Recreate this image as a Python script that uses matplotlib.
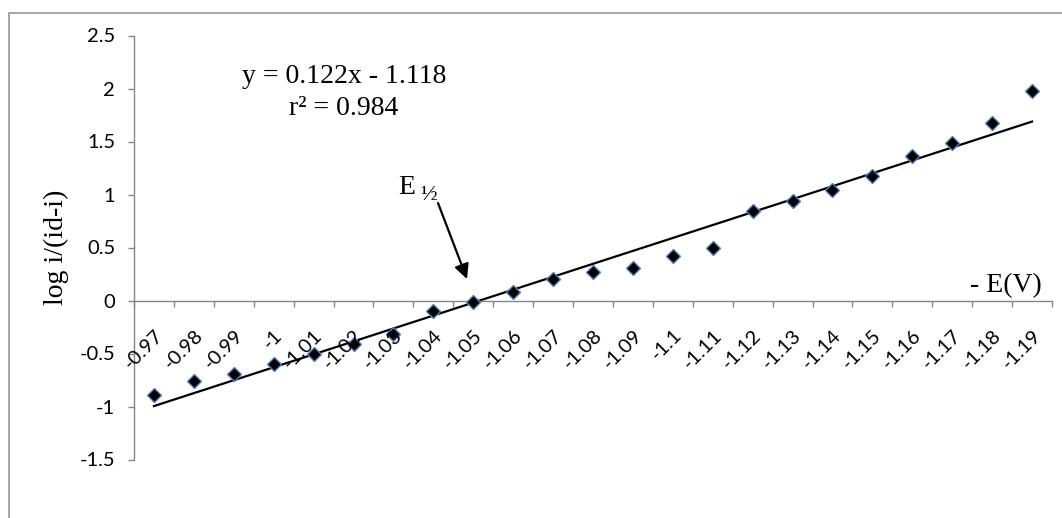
import numpy as np
import matplotlib
matplotlib.use("Agg")
import matplotlib.pyplot as plt
from matplotlib.patches import Rectangle
from matplotlib.transforms import ScaledTranslation

plt.rcParams['axes.unicode_minus'] = False

# ---- data ----
categories = ['-0.97', '-0.98', '-0.99', '-1', '-1.01', '-1.02', '-1.03', '-1.04',
              '-1.05', '-1.06', '-1.07', '-1.08', '-1.09', '-1.1', '-1.11', '-1.12',
              '-1.13', '-1.14', '-1.15', '-1.16', '-1.17', '-1.18', '-1.19']
log_ratio = [-0.89, -0.76, -0.69, -0.60, -0.50, -0.41, -0.32, -0.10, -0.01, 0.08,
             0.20, 0.27, 0.31, 0.42, 0.50, 0.84, 0.94, 1.04, 1.17, 1.36, 1.49,
             1.67, 1.98]
slope = 0.122
intercept = -1.118
r2 = 0.984
yticks = [-1.5, -1, -0.5, 0, 0.5, 1, 1.5, 2, 2.5]
ytick_labels = ['-1.5', '-1', '-0.5', '0', '0.5', '1', '1.5', '2', '2.5']

W, H = 1062, 518
fig = plt.figure(figsize=(W / 100, H / 100), dpi=100)
ax = fig.add_axes([134 / W, 1 - 459.5 / H, (1052 - 134) / W, (459.5 - 35.5) / H])

x = np.arange(1, len(categories) + 1)
serif = 'Liberation Serif'
tickfont = 'Lato'
tfs = 14.5
gray = '#868686'

# trendline
ax.plot(x, slope * x + intercept, color='black', lw=1.6, zorder=2)
# points
ax.plot(x, log_ratio, linestyle='none', marker='D', markersize=7.2,
        markerfacecolor='black', markeredgecolor='#4F81BD', markeredgewidth=1.0,
        zorder=3)

ax.set_xlim(0.5, len(categories) + 0.5)
ax.set_ylim(-1.5, 2.5)

for s in ['top', 'right']:
    ax.spines[s].set_visible(False)
ax.spines['left'].set_color(gray)
ax.spines['bottom'].set_color(gray)
ax.spines['bottom'].set_position(('data', 0))
ax.spines['left'].set_linewidth(1.0)
ax.spines['bottom'].set_linewidth(1.0)

ax.set_yticks(yticks)
ax.set_yticklabels(ytick_labels, fontfamily=tickfont, fontsize=tfs)
ax.tick_params(axis='y', direction='out', length=4.5, width=1, color=gray, pad=9)

ax.set_xticks(np.arange(0.5, len(categories) + 1, 1.0))
ax.set_xticklabels([])
ax.tick_params(axis='x', direction='out', length=4, width=1, color=gray)

off = ScaledTranslation(6 / 100, -32 / 100, fig.dpi_scale_trans)
for xi, lab in zip(x, categories):
    ax.text(xi, 0, lab, transform=ax.transData + off, rotation=45,
            rotation_mode='anchor', ha='right', va='center',
            fontfamily=tickfont, fontsize=tfs)

# y-axis title
fig.text(56 / W, 1 - 247.5 / H, 'log i/(id-i)', rotation=90, ha='center', va='center',
         fontfamily=serif, fontsize=20)

# equation
fig.text(344 / W, 1 - 83 / H, f'y = {slope}x - {abs(intercept)}', ha='center',
         va='baseline', fontfamily=serif, fontsize=20)
fig.text(344 / W, 1 - 115 / H, f'r\u00b2 = {r2}', ha='center', va='baseline',
         fontfamily=serif, fontsize=20)

# x-axis title
fig.text(970 / W, 1 - 292 / H, '- E(V)', ha='left', va='baseline',
         fontfamily=serif, fontsize=20)

# E 1/2 annotation
fig.text(398 / W, 1 - 194 / H, 'E', ha='left', va='baseline',
         fontfamily=serif, fontsize=20)
fig.text(420 / W, 1 - 199 / H, '\u00bd', ha='left', va='baseline',
         fontfamily=serif, fontsize=16)
ax.annotate('', xy=(467, H - 279), xycoords='figure pixels',
            xytext=(438, H - 203), textcoords='figure pixels',
            arrowprops=dict(arrowstyle='-|>', color='black', lw=1.6,
                            mutation_scale=22, shrinkA=0, shrinkB=0))

# outer border
fig.patches.append(Rectangle((9 / W, -0.2), 1.5, 1.2 - 13 / H, transform=fig.transFigure,
                             fill=False, edgecolor='#A0A0A0', lw=1.3))

fig.savefig('out.png', dpi=100)
